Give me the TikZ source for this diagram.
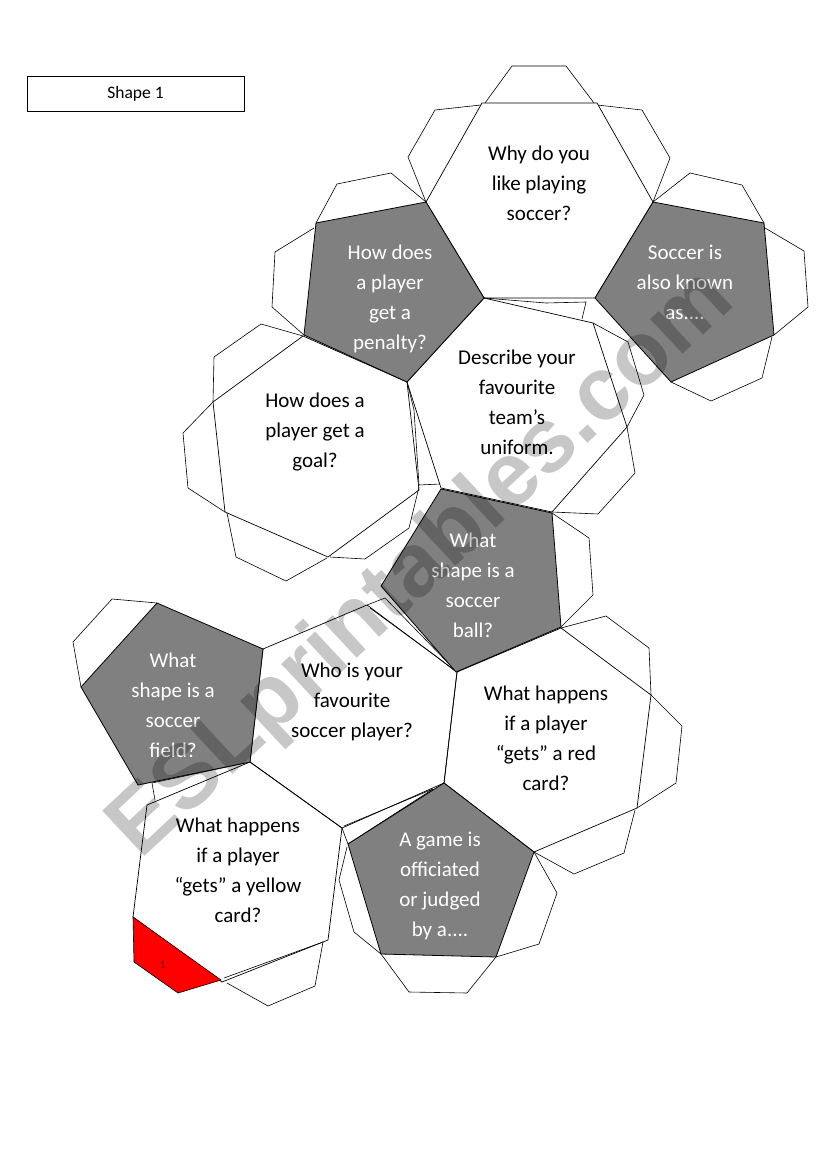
\documentclass[tikz,border=0pt]{standalone}
\usepackage{fontspec}
\setmainfont{Carlito}
\newfontfamily\markfont{Liberation Sans}
\usetikzlibrary{positioning}
\tikzset{
    flap/.style={draw=black, line width=0.6pt, line join=miter},
    hexface/.style={draw=black, line width=0.7pt, fill=white},
    pentface/.style={draw=black, line width=0.8pt, fill=black!50},
    hextext/.style={align=center, inner sep=0pt, text=black, font=\fontsize{21}{30}\selectfont},
    penttext/.style={hextext, text=white},
}

\begin{document}
\begin{tikzpicture}[x=1pt, y=-1pt]
    \useasboundingbox (0,0) rectangle (821,1169);
    \fill[white] (0,0) rectangle (821,1169);

    \node[draw=black, line width=0.7pt, minimum width=217pt, minimum height=35pt, inner sep=0pt, font=\fontsize{17.5}{18}\selectfont] (shapeone) at (135.5,93.5) {Shape 1};

    % top hexagon
    \draw[flap] (485,103) -- (512,66) -- (566,66) -- (594,103);
    \draw[flap] (481,105) -- (435,110) -- (408,157) -- (426,202);
    \draw[flap] (597,105) -- (642,110) -- (670,158) -- (653,202);
    \draw[hexface] (482,103) -- (597,103) -- (653,202) -- (595,298) -- (484,298) -- (426,202) -- cycle;

    % top left pentagon
    \draw[flap] (316,223) -- (337,184) -- (391,173) -- (426,202);
    \draw[flap] (314,228) -- (275,252) -- (272,307) -- (304,335);

    % top right pentagon
    \draw[flap] (653,202) -- (690,173) -- (742,185) -- (764,223);
    \draw[flap] (765,228) -- (804,251) -- (808,307) -- (774,335);
    \draw[flap] (772,337) -- (762,378) -- (711,401) -- (671,382);

    % uniform hexagon
    \draw[flap] (484,298) -- (546,303) -- (586,302) -- (582,319);
    \draw[flap] (593,323) -- (628,342) -- (644,395) -- (627,427);
    \draw[flap] (627,427) -- (635,473) -- (598,514) -- (552,512);
    \draw[flap] (407,382) -- (414,410) -- (419,485) -- (440,484);
    \draw[hexface, fill=none] (484,298) -- (593,323) -- (627,427) -- (552,512) -- (441,488) -- (407,382) -- cycle;

    % goal hexagon
    \draw[flap] (303,336) -- (261,324) -- (214,357) -- (213,402);
    \draw[flap] (213,402) -- (183,433) -- (188,488) -- (225,512);
    \draw[flap] (227,513) -- (236,557) -- (286,581) -- (327,558);
    \draw[flap] (330,557) -- (365,559) -- (409,528) -- (419,487);
    \draw[hexface, fill=none] (303,336) -- (407,382) -- (419,490) -- (328,557) -- (225,512) -- (213,402) -- cycle;

    % ball pentagon
    \draw[flap] (552,513) -- (589,538) -- (593,595) -- (561,627);

    % favourite player hexagon
    \draw[flap] (367,605) -- (385,598) -- (457,672);
    \draw[flap] (370,608) -- (437,657) -- (455,671);
    \draw[hexface, fill=none] (263,649) -- (367,605) -- (457,672) -- (444,783) -- (342,828) -- (250,762) -- cycle;

    % red card hexagon
    \draw[flap] (561,628) -- (606,616) -- (649,648) -- (651,695);
    \draw[flap] (651,695) -- (682,726) -- (676,783) -- (637,808);
    \draw[flap] (635,810) -- (624,853) -- (574,874) -- (534,852);
    \draw[hexface, fill=none] (457,672) -- (561,628) -- (651,695) -- (637,808) -- (534,852) -- (444,783) -- cycle;

    % field pentagon
    \draw[flap] (157,603) -- (112,599) -- (73,642) -- (81,687);

    % yellow card hexagon
    \draw[flap] (152,783) -- (155,800);
    \draw[flap] (152,783) -- (250,762);
    \draw[flap] (227,983) -- (268,1006) -- (315,986) -- (323,942);
    \draw[flap] (224,978) -- (323,942);
    \draw[hexface, fill=none] (147,805) -- (250,762) -- (342,828) -- (328,940) -- (222,982) -- (133,917) -- cycle;
    \draw[draw=black, line width=0.6pt, fill=red] (133,917) -- (134,962) -- (178,993) -- (221,980) -- cycle;

    % referee pentagon
    \draw[flap] (342,828) -- (348,844);
    \draw[flap] (344,826) -- (433,789);
    \draw[flap] (348,844) -- (433,789);
    \draw[flap] (347,847) -- (339,880) -- (354,932) -- (381,954);
    \draw[flap] (381,954) -- (409,992) -- (467,993) -- (496,957);
    \draw[flap] (534,852) -- (557,893) -- (539,944) -- (496,957);

    % grey pentagons
    \draw[pentface] (426,202) -- (316,223) -- (304,335) -- (407,382) -- (484,298) -- cycle;
    \draw[pentface] (653,202) -- (764,223) -- (774,335) -- (671,382) -- (595,298) -- cycle;
    \draw[pentface] (441,489) -- (552,513) -- (561,627) -- (456,672) -- (381,586) -- cycle;
    \draw[pentface] (157,603) -- (263,649) -- (250,762) -- (138,785) -- (81,687) -- cycle;
    \draw[pentface] (444,783) -- (534,852) -- (496,957) -- (381,954) -- (348,844) -- cycle;

    \node[hextext] (why) at (539,183) {Why do you\\like playing\\soccer?};
    \node[penttext] (penalty) at (390,299) {How does\\a player\\get a\\penalty?};
    \node[penttext] (knownas) at (685,282) {Soccer is\\also known\\as....};
    \node[hextext] (uniform) at (517,402) {Describe your\\favourite\\team’s\\uniform.};
    \node[hextext] (goal) at (315,432) {How does a\\player get a\\goal?};
    \node[penttext] (ball) at (473,585) {What\\shape is a\\soccer\\ball?};
    \node[penttext] (field) at (173,705) {What\\shape is a\\soccer\\field?};
    \node[hextext] (favourite) at (352,702) {Who is your\\favourite\\soccer player?};
    \node[hextext] (redcard) at (546,738) {What happens\\if a player\\“gets” a red\\card?};
    \node[hextext] (yellowcard) at (238,870) {What happens\\if a player\\“gets” a yellow\\card?};
    \node[penttext] (referee) at (440,886) {A game is\\officiated\\or judged\\by a....};
    \node[inner sep=0pt, font=\fontsize{11}{12}\selectfont, text=black!70!red] (number) at (163,965) {1};

    \node[rotate=43, inner sep=0pt, text=black, text opacity=0.22, font=\markfont\bfseries\fontsize{90}{90}\selectfont] (watermark) at (423,565) {ESLprintables.com};
\end{tikzpicture}
\end{document}
